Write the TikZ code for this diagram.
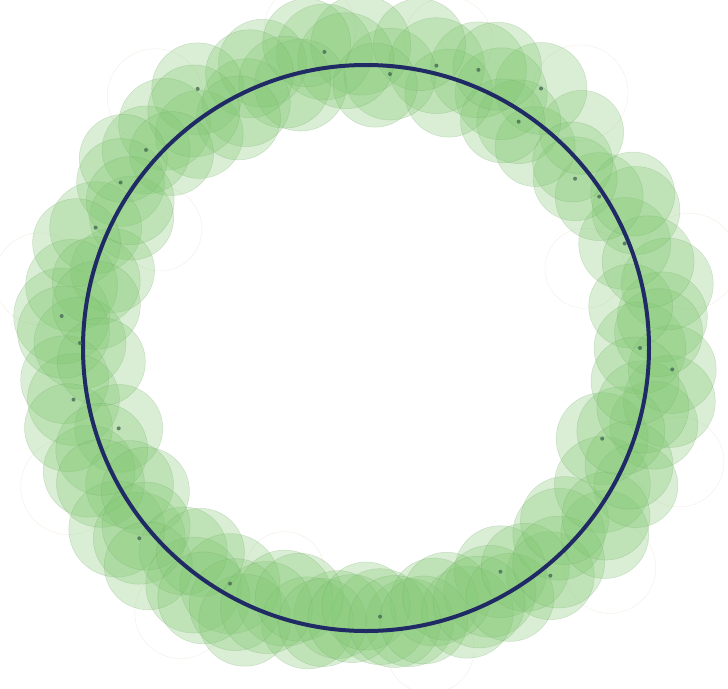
\documentclass[tikz,border=0pt]{standalone}
\begin{document}
\begin{tikzpicture}[x=1pt,y=-1pt]
\definecolor{leaf}{RGB}{130,200,115}
\definecolor{leafedge}{RGB}{110,160,100}
\definecolor{ringblue}{RGB}{32,42,100}
\definecolor{dotc}{RGB}{70,105,85}
\definecolor{faint}{RGB}{225,200,175}
\tikzset{
  disc/.style={fill=leaf, fill opacity=0.3, draw=leafedge, draw opacity=0.28, line width=0.5pt},
  ghost/.style={draw=faint, draw opacity=0.35, line width=0.4pt},
  centre/.style={fill=dotc, fill opacity=0.8}
}
\useasboundingbox (0,0) rectangle (728,688);
% faint outline circles
\foreach \a/\d/\r in {50/50/48, 15/52/48, 340/50/45, 318/45/46, 282/25/44, 235/40/46, 205/45/48, 168/50/46, 130/45/48, 100/40/46, 75/35/44, 20/-50/40, 250/-45/40, 150/-45/42}{
  \path[ghost] ({366+(283+(\d))*cos(\a)},{348-(283+(\d))*sin(\a)}) circle[radius=\r];
}
% green discs
\foreach \a/\d/\r in {0/-9/46, 6/15/45, 12/25/46, 22/-4/46, 27/20/44, 33/-5/44, 39/-14/42, 45/22/42, 50/-20/40, 56/30/46, 56/-10/42, 62/5/46, 68/17/48, 72/-15/44, 76/8/48, 85/-8/46, 91/20/50, 98/16/48, 104/-12/46, 110/20/44, 116/-10/44, 123/26/46, 128/-12/44, 132/18/46, 138/13/44, 146/13/44, 151/-15/42, 156/13/46, 163/-18/42, 168/18/46, 174/23/48, 179/3/46, 186/20/44, 190/14/46, 198/-23/44, 204/20/46, 210/-10/44, 216/25/48, 220/13/46, 228/-10/44, 234/10/48, 240/-11/50, 246/15/46, 252/-20/48, 258/-2/46, 264/-15/44, 273/-14/48, 279/-5/44, 285/-20/44, 291/0/46, 297/-10/46, 301/-22/46, 309/10/44, 316/-15/46, 322/20/44, 330/-10/48, 339/-30/46, 333/20/42, 345/15/44, 350/25/46, 356/24/44}{
  \path[disc] ({366+(283+(\d))*cos(\a)},{348-(283+(\d))*sin(\a)}) circle[radius=\r];
}
\foreach \a/\d/\r in {3/10/44, 9/-15/42, 17/12/46, 30/25/42, 42/-5/40, 59/-18/42, 65/28/44, 80/25/46, 88/-20/42, 94/5/48, 101/28/44, 107/-5/46, 113/15/44, 119/-20/42, 126/10/46, 135/-8/42, 142/25/44, 148/-5/44, 160/25/44, 166/-5/44, 171/-10/44, 177/20/46, 183/-18/44, 195/25/44, 201/0/46, 207/15/44, 213/-20/44, 219/0/44, 225/25/44, 231/-20/44, 237/15/46, 243/5/46, 249/-5/46, 255/-25/44, 261/-5/44, 267/-12/44, 270/-25/44, 276/-8/46, 282/-5/44, 288/-22/44, 294/-5/46, 300/5/44, 306/-12/44, 312/5/46, 319/-20/44, 325/10/44, 336/5/44, 342/-15/44, 348/0/46, 353/-12/44}{
  \path[disc] ({366+(283+(\d))*cos(\a)},{348-(283+(\d))*sin(\a)}) circle[radius=\r];
}
% the ring
\draw[ringblue, line width=4pt] (366,348) circle[radius=283];
% centre dots
\foreach \a/\d in {0/-9, 22/-4, 33/-5, 39/-14, 56/30, 56/-10, 68/17, 76/8, 85/-8, 98/16, 123/26, 138/13, 146/13, 156/13, 174/23, 179/3, 190/14, 198/-23, 220/13, 240/-11, 273/-14, 301/-22, 309/10, 339/-30, 356/24}{
  \fill[centre] ({366+(283+(\d))*cos(\a)},{348-(283+(\d))*sin(\a)}) circle[radius=2];
}
\end{tikzpicture}
\end{document}
